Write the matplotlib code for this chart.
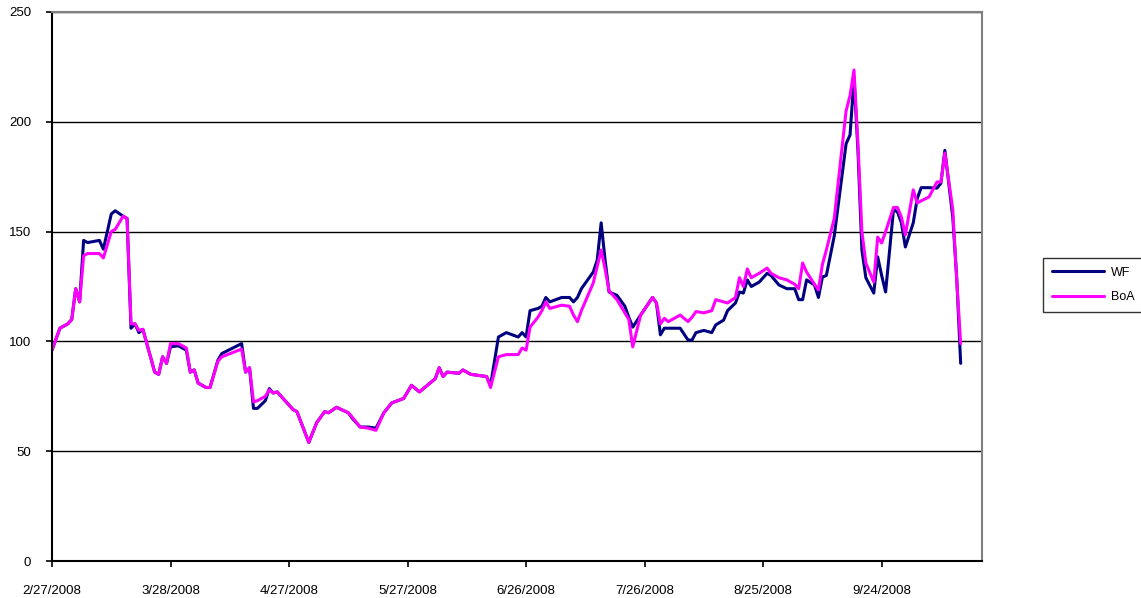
import matplotlib
matplotlib.use("Agg")
import matplotlib.pyplot as plt
import matplotlib.dates as mdates
import numpy as np
from datetime import datetime, timedelta

# ---- data ----
day_offsets = [0, 2, 4, 5, 6, 7, 8, 9, 12, 13, 15, 16, 18, 19, 20, 21, 22, 23, 24,
               26, 27, 28, 29, 30, 32, 34, 35, 36, 37, 39, 40, 42, 43, 48, 49, 50,
               51, 52, 54, 55, 56, 57, 59, 61, 62, 65, 67, 69, 70, 72, 75, 76, 78,
               80, 82, 84, 86, 89, 91, 93, 97, 98, 99, 100, 103, 104, 106, 110, 111,
               113, 115, 118, 119, 120, 121, 123, 124, 125, 126, 129, 131, 132, 133,
               134, 137, 138, 139, 140, 141, 143, 145, 146, 147, 149, 152, 153, 154,
               155, 156, 159, 161, 162, 163, 165, 167, 168, 170, 171, 173, 174, 175,
               176, 177, 179, 181, 182, 184, 186, 188, 189, 190, 191, 193, 194, 195,
               196, 198, 201, 202, 203, 204, 205, 206, 208, 209, 210, 211, 213, 214,
               215, 216, 218, 219, 220, 222, 224, 225, 226, 228, 229, 230]
wf = [96, 106, 108, 110, 124, 118, 146, 145, 146, 142, 158, 159.5, 157, 156, 106, 108, 104, 105.5, 99,
      86, 85, 93, 90, 97.5, 98, 96, 86, 87, 81, 79, 79, 91.5, 94.5, 99, 86, 88,
      69.5, 69.5, 73, 78.5, 76.5, 77, 73, 69, 68, 54, 63, 68, 67.5, 70, 67.5, 65, 61,
      61, 60.5, 67.5, 72, 74, 80, 77, 83, 88, 84, 86, 85.5, 87, 85, 84, 80,
      102, 104, 102, 104, 102, 114, 115, 116, 120, 118, 120, 120, 118, 120,
      124, 131.6, 137, 154, 137, 122.5, 121, 116, 111, 106.5, 112, 120, 117.5, 103,
      106, 106, 106, 100.6, 100.6, 104, 105, 104, 107.5, 109.7, 114, 117.5, 122.5, 122,
      128, 125, 127, 131, 130, 125.7, 124, 124, 119, 119, 128, 125.7, 120, 129.3,
      130, 148, 190, 194, 220, 187, 141.6, 129, 122, 138.5, 130, 122.5, 160, 159,
      154, 143, 154, 165, 170, 170, 169.8, 172, 187, 156.6, 129, 90]
boa = [96, 106, 108, 110, 124, 118, 139, 140, 140, 138, 150, 151, 157, 156, 108, 108, 105, 105.5, 99,
       86, 85, 93, 90, 99, 99, 97, 86, 87, 81, 79, 79, 91, 93, 96.5, 86, 88,
       72.5, 73, 75, 78, 76.5, 77, 73, 69, 68, 54, 63, 68, 67.5, 70, 67.5, 65.5, 61,
       60.5, 59.5, 67.5, 72, 74, 80, 77, 83, 88, 84, 86, 85.5, 87, 85, 84, 79,
       93, 94, 94, 97, 96, 106.5, 111, 114, 118, 115, 116.5, 116, 112, 109,
       114, 126.6, 134, 141.6, 133, 123, 119, 113, 110, 97.5, 112, 120, 117.5, 108,
       110.5, 109, 112, 109, 111, 113.6, 113, 114, 119, 118, 117.5, 120, 129, 125,
       133, 129, 131, 133.4, 131, 129, 128, 126, 124, 135.7, 131.6, 126, 123.4, 135,
       141.6, 156, 205, 212, 223.6, 190, 150, 135.7, 127, 147.5, 144.8, 150, 161, 161,
       156.6, 148.5, 169, 163, 164, 165.8, 172.6, 172.6, 185.8, 160, 128, 99]

series_names = ["WF", "BoA"]
series_colors = ["#000080", "#FF00FF"]
y_ticks = [0, 50, 100, 150, 200, 250]

start = datetime(2008, 2, 27)
dates = [start + timedelta(days=d) for d in day_offsets]
tick_dates = [start + timedelta(days=30 * k) for k in range(8)]

plt.rcParams['font.family'] = ['Liberation Sans', 'DejaVu Sans']

fig = plt.figure(figsize=(11.41, 5.98), dpi=100)
ax = fig.add_axes([52 / 1141, 1 - 561 / 598, (982 - 52) / 1141, (561 - 12) / 598])

lines = []
for vals, name, col in zip([wf, boa], series_names, series_colors):
    ln, = ax.plot(dates, vals, color=col, lw=2.2, label=name,
                  solid_joinstyle='round', solid_capstyle='round')
    lines.append(ln)

ax.set_ylim(0, 250)
ax.set_yticks(y_ticks)
ax.set_xlim(mdates.date2num(start), mdates.date2num(start) + 235.4)
ax.set_xticks(tick_dates)
ax.xaxis.set_major_formatter(plt.FuncFormatter(
    lambda v, p: (lambda d: f"{d.month}/{d.day}/{d.year}")(mdates.num2date(v))))

ax.yaxis.grid(True, color='black', lw=1.0)
ax.set_axisbelow(True)
for s in ['top', 'right']:
    ax.spines[s].set_color('#808080')
    ax.spines[s].set_linewidth(1.5)
for s in ['left', 'bottom']:
    ax.spines[s].set_color('black')
    ax.spines[s].set_linewidth(1.5)
ax.tick_params(axis='both', direction='out', length=4, width=1.2, labelsize=9.5, colors='black')
ax.tick_params(axis='x', pad=13)
ax.tick_params(axis='y', pad=11)

leg = fig.legend(handles=lines, labels=series_names, loc='upper left',
                 bbox_to_anchor=(1043 / 1141, 1 - 258 / 598), frameon=True,
                 fancybox=False, edgecolor='black', fontsize=9,
                 handlelength=4.2, borderpad=0.7, labelspacing=1.0, handletextpad=0.5,
                 borderaxespad=0)
leg.get_frame().set_linewidth(1.0)

fig.savefig("out.png", dpi=100)
